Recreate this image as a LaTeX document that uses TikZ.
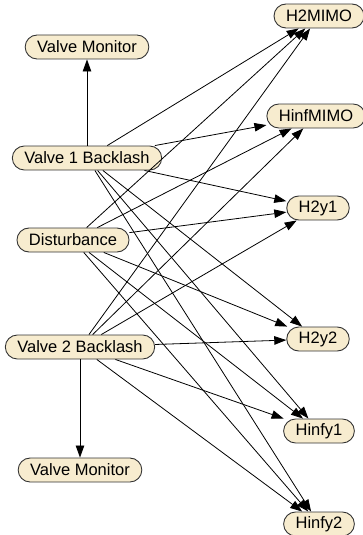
\documentclass[tikz,border=0pt]{standalone}
\usepackage{fontspec}
\setmainfont{Liberation Sans}
\usepackage{tikz}
\usetikzlibrary{arrows.meta,positioning}

\definecolor{boxfill}{HTML}{F7ECCF}
\definecolor{boxline}{HTML}{333333}

\begin{document}
\begin{tikzpicture}[x=1pt,y=-1pt,->,>={Triangle[length=12pt,width=8.5pt]},
                    auto,on grid,line width=0.8pt]
  \tikzstyle{signal}=[rectangle,rounded corners=12pt,fill=boxfill,
                      draw=boxline,line width=0.9pt,minimum height=24pt,
                      inner xsep=12pt,inner ysep=2pt,text=black,
                      font=\fontsize{16.5}{19}\selectfont]
  \useasboundingbox (0,0) rectangle (363,535);

  \node[signal]         (v1) at (87,158)            {Valve 1 Backlash};
  \node[signal]         (vm1) [above=111pt of v1]   {Valve Monitor};
  \node[signal]         (dist) [below left=82pt and 14pt of v1] {Disturbance};
  \node[signal]         (v2) [below right=107pt and 7pt of dist] {Valve 2 Backlash};
  \node[signal]         (vm2) [below=123pt of v2]   {Valve Monitor};

  \node[signal]         (h2mimo) at (319,16)        {H2MIMO};
  \node[signal]         (hinfmimo) [below left=100pt and 3pt of h2mimo] {HinfMIMO};
  \node[signal]         (h2y1) [below right=92pt and 2pt of hinfmimo] {H2y1};
  \node[signal]         (h2y2) [below=131pt of h2y1] {H2y2};
  \node[signal]         (hinfy1) [below right=92pt and 1pt of h2y2] {Hinfy1};
  \node[signal]         (hinfy2) [below=93pt of hinfy1] {Hinfy2};

  \path (v1)   edge (vm1)
        (v2)   edge (vm2)
        (v1)   edge (h2mimo)
        (v1)   edge (hinfmimo)
        (v1)   edge (h2y1)
        (v1)   edge (h2y2)
        (v1)   edge (hinfy1)
        (v1)   edge (hinfy2)
        (dist) edge (h2mimo)
        (dist) edge (hinfmimo)
        (dist) edge (h2y1)
        (dist) edge (h2y2)
        (dist) edge (hinfy1)
        (dist) edge (hinfy2)
        (v2)   edge (h2mimo)
        (v2)   edge (hinfmimo)
        (v2)   edge (h2y1)
        (v2)   edge (h2y2)
        (v2)   edge (hinfy1)
        (v2)   edge (hinfy2)
  ; %end path

\end{tikzpicture}
\end{document}
